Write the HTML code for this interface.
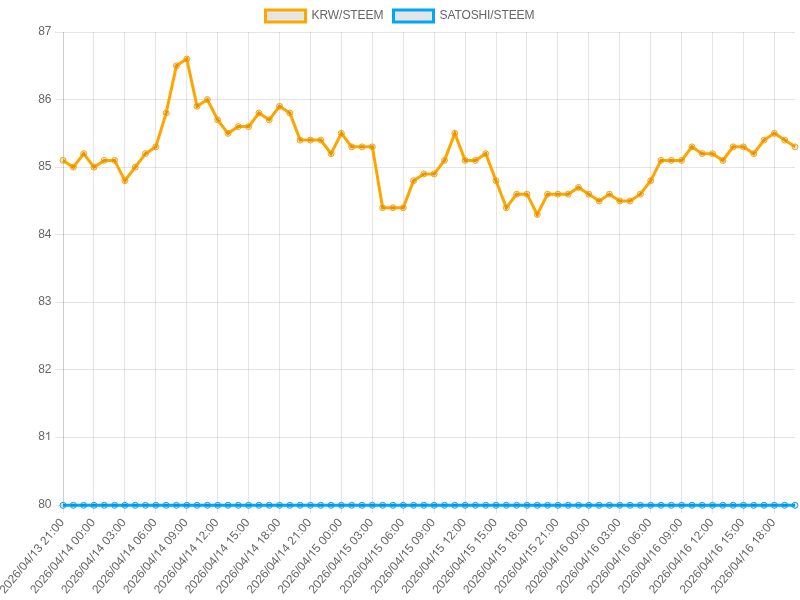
<!DOCTYPE html><html><head><meta charset="utf-8"><style>html,body{margin:0;padding:0;background:#fff;width:800px;height:600px;overflow:hidden}svg{display:block}text{font-family:"Liberation Sans",sans-serif;font-size:12px;fill:#666}</style></head><body>
<div style="position:absolute;left:0;top:0;width:800px;height:600px;will-change:transform"><svg width="800" height="600" viewBox="0 0 800 600">
<rect x="265.50" y="10" width="40" height="12" fill="rgba(0,0,0,0.1)" stroke="#ffa500" stroke-width="3"/>
<text x="311.50" y="19.30" textLength="72.0" lengthAdjust="spacing">KRW/STEEM</text>
<rect x="393.50" y="10" width="40" height="12" fill="rgba(0,0,0,0.1)" stroke="#00a5ff" stroke-width="3"/>
<text x="439.50" y="19.30" textLength="95.0" lengthAdjust="spacing">SATOSHI/STEEM</text>
<path d="M55.04 505.50H795.00M55.04 437.50H795.00M55.04 369.50H795.00M55.04 302.50H795.00M55.04 234.50H795.00M55.04 167.50H795.00M55.04 99.50H795.00M55.04 32.50H795.00M63.50 32.00V513.00M93.50 32.00V513.00M124.50 32.00V513.00M155.50 32.00V513.00M186.50 32.00V513.00M217.50 32.00V513.00M248.50 32.00V513.00M279.50 32.00V513.00M310.50 32.00V513.00M341.50 32.00V513.00M372.50 32.00V513.00M403.50 32.00V513.00M434.50 32.00V513.00M465.50 32.00V513.00M496.50 32.00V513.00M526.50 32.00V513.00M557.50 32.00V513.00M588.50 32.00V513.00M619.50 32.00V513.00M650.50 32.00V513.00M681.50 32.00V513.00M712.50 32.00V513.00M743.50 32.00V513.00M774.50 32.00V513.00M63.50 32.00V505.00" stroke="rgba(0,0,0,0.1)" stroke-width="1" fill="none"/>
<text x="51.50" y="508.00" text-anchor="end">80</text>
<text x="51.50" y="440.00" text-anchor="end">8 </text>
<path fill="#666" transform="translate(44.826 440.000) scale(0.005859375 -0.005859375)" d="M763 0H583V1102C539 1060 481 1018 409 976C337 934 272 902 215 881V1048C315 1095 403 1152 478 1220C553 1288 606 1351 637 1409H763Z"/>
<text x="51.50" y="373.00" text-anchor="end">82</text>
<text x="51.50" y="305.00" text-anchor="end">83</text>
<text x="51.50" y="238.00" text-anchor="end">84</text>
<text x="51.50" y="170.00" text-anchor="end">85</text>
<text x="51.50" y="103.00" text-anchor="end">86</text>
<text x="51.50" y="35.00" text-anchor="end">87</text>
<g transform="translate(61.54 520.00) rotate(-50)"><text x="0" y="4.16" text-anchor="end">2026/04/ 3 2 :00</text>
<path fill="#666" transform="translate(-46.711 4.16) scale(0.005859375 -0.005859375)" d="M763 0H583V1102C539 1060 481 1018 409 976C337 934 272 902 215 881V1048C315 1095 403 1152 478 1220C553 1288 606 1351 637 1409H763Z"/>
<path fill="#666" transform="translate(-23.355 4.16) scale(0.005859375 -0.005859375)" d="M763 0H583V1102C539 1060 481 1018 409 976C337 934 272 902 215 881V1048C315 1095 403 1152 478 1220C553 1288 606 1351 637 1409H763Z"/>
</g>
<g transform="translate(92.47 520.00) rotate(-50)"><text x="0" y="4.16" text-anchor="end">2026/04/ 4 00:00</text>
<path fill="#666" transform="translate(-46.711 4.16) scale(0.005859375 -0.005859375)" d="M763 0H583V1102C539 1060 481 1018 409 976C337 934 272 902 215 881V1048C315 1095 403 1152 478 1220C553 1288 606 1351 637 1409H763Z"/>
</g>
<g transform="translate(123.40 520.00) rotate(-50)"><text x="0" y="4.16" text-anchor="end">2026/04/ 4 03:00</text>
<path fill="#666" transform="translate(-46.711 4.16) scale(0.005859375 -0.005859375)" d="M763 0H583V1102C539 1060 481 1018 409 976C337 934 272 902 215 881V1048C315 1095 403 1152 478 1220C553 1288 606 1351 637 1409H763Z"/>
</g>
<g transform="translate(154.32 520.00) rotate(-50)"><text x="0" y="4.16" text-anchor="end">2026/04/ 4 06:00</text>
<path fill="#666" transform="translate(-46.711 4.16) scale(0.005859375 -0.005859375)" d="M763 0H583V1102C539 1060 481 1018 409 976C337 934 272 902 215 881V1048C315 1095 403 1152 478 1220C553 1288 606 1351 637 1409H763Z"/>
</g>
<g transform="translate(185.25 520.00) rotate(-50)"><text x="0" y="4.16" text-anchor="end">2026/04/ 4 09:00</text>
<path fill="#666" transform="translate(-46.711 4.16) scale(0.005859375 -0.005859375)" d="M763 0H583V1102C539 1060 481 1018 409 976C337 934 272 902 215 881V1048C315 1095 403 1152 478 1220C553 1288 606 1351 637 1409H763Z"/>
</g>
<g transform="translate(216.18 520.00) rotate(-50)"><text x="0" y="4.16" text-anchor="end">2026/04/ 4  2:00</text>
<path fill="#666" transform="translate(-46.711 4.16) scale(0.005859375 -0.005859375)" d="M763 0H583V1102C539 1060 481 1018 409 976C337 934 272 902 215 881V1048C315 1095 403 1152 478 1220C553 1288 606 1351 637 1409H763Z"/>
<path fill="#666" transform="translate(-30.029 4.16) scale(0.005859375 -0.005859375)" d="M763 0H583V1102C539 1060 481 1018 409 976C337 934 272 902 215 881V1048C315 1095 403 1152 478 1220C553 1288 606 1351 637 1409H763Z"/>
</g>
<g transform="translate(247.11 520.00) rotate(-50)"><text x="0" y="4.16" text-anchor="end">2026/04/ 4  5:00</text>
<path fill="#666" transform="translate(-46.711 4.16) scale(0.005859375 -0.005859375)" d="M763 0H583V1102C539 1060 481 1018 409 976C337 934 272 902 215 881V1048C315 1095 403 1152 478 1220C553 1288 606 1351 637 1409H763Z"/>
<path fill="#666" transform="translate(-30.029 4.16) scale(0.005859375 -0.005859375)" d="M763 0H583V1102C539 1060 481 1018 409 976C337 934 272 902 215 881V1048C315 1095 403 1152 478 1220C553 1288 606 1351 637 1409H763Z"/>
</g>
<g transform="translate(278.04 520.00) rotate(-50)"><text x="0" y="4.16" text-anchor="end">2026/04/ 4  8:00</text>
<path fill="#666" transform="translate(-46.711 4.16) scale(0.005859375 -0.005859375)" d="M763 0H583V1102C539 1060 481 1018 409 976C337 934 272 902 215 881V1048C315 1095 403 1152 478 1220C553 1288 606 1351 637 1409H763Z"/>
<path fill="#666" transform="translate(-30.029 4.16) scale(0.005859375 -0.005859375)" d="M763 0H583V1102C539 1060 481 1018 409 976C337 934 272 902 215 881V1048C315 1095 403 1152 478 1220C553 1288 606 1351 637 1409H763Z"/>
</g>
<g transform="translate(308.96 520.00) rotate(-50)"><text x="0" y="4.16" text-anchor="end">2026/04/ 4 2 :00</text>
<path fill="#666" transform="translate(-46.711 4.16) scale(0.005859375 -0.005859375)" d="M763 0H583V1102C539 1060 481 1018 409 976C337 934 272 902 215 881V1048C315 1095 403 1152 478 1220C553 1288 606 1351 637 1409H763Z"/>
<path fill="#666" transform="translate(-23.355 4.16) scale(0.005859375 -0.005859375)" d="M763 0H583V1102C539 1060 481 1018 409 976C337 934 272 902 215 881V1048C315 1095 403 1152 478 1220C553 1288 606 1351 637 1409H763Z"/>
</g>
<g transform="translate(339.89 520.00) rotate(-50)"><text x="0" y="4.16" text-anchor="end">2026/04/ 5 00:00</text>
<path fill="#666" transform="translate(-46.711 4.16) scale(0.005859375 -0.005859375)" d="M763 0H583V1102C539 1060 481 1018 409 976C337 934 272 902 215 881V1048C315 1095 403 1152 478 1220C553 1288 606 1351 637 1409H763Z"/>
</g>
<g transform="translate(370.82 520.00) rotate(-50)"><text x="0" y="4.16" text-anchor="end">2026/04/ 5 03:00</text>
<path fill="#666" transform="translate(-46.711 4.16) scale(0.005859375 -0.005859375)" d="M763 0H583V1102C539 1060 481 1018 409 976C337 934 272 902 215 881V1048C315 1095 403 1152 478 1220C553 1288 606 1351 637 1409H763Z"/>
</g>
<g transform="translate(401.75 520.00) rotate(-50)"><text x="0" y="4.16" text-anchor="end">2026/04/ 5 06:00</text>
<path fill="#666" transform="translate(-46.711 4.16) scale(0.005859375 -0.005859375)" d="M763 0H583V1102C539 1060 481 1018 409 976C337 934 272 902 215 881V1048C315 1095 403 1152 478 1220C553 1288 606 1351 637 1409H763Z"/>
</g>
<g transform="translate(432.67 520.00) rotate(-50)"><text x="0" y="4.16" text-anchor="end">2026/04/ 5 09:00</text>
<path fill="#666" transform="translate(-46.711 4.16) scale(0.005859375 -0.005859375)" d="M763 0H583V1102C539 1060 481 1018 409 976C337 934 272 902 215 881V1048C315 1095 403 1152 478 1220C553 1288 606 1351 637 1409H763Z"/>
</g>
<g transform="translate(463.60 520.00) rotate(-50)"><text x="0" y="4.16" text-anchor="end">2026/04/ 5  2:00</text>
<path fill="#666" transform="translate(-46.711 4.16) scale(0.005859375 -0.005859375)" d="M763 0H583V1102C539 1060 481 1018 409 976C337 934 272 902 215 881V1048C315 1095 403 1152 478 1220C553 1288 606 1351 637 1409H763Z"/>
<path fill="#666" transform="translate(-30.029 4.16) scale(0.005859375 -0.005859375)" d="M763 0H583V1102C539 1060 481 1018 409 976C337 934 272 902 215 881V1048C315 1095 403 1152 478 1220C553 1288 606 1351 637 1409H763Z"/>
</g>
<g transform="translate(494.53 520.00) rotate(-50)"><text x="0" y="4.16" text-anchor="end">2026/04/ 5  5:00</text>
<path fill="#666" transform="translate(-46.711 4.16) scale(0.005859375 -0.005859375)" d="M763 0H583V1102C539 1060 481 1018 409 976C337 934 272 902 215 881V1048C315 1095 403 1152 478 1220C553 1288 606 1351 637 1409H763Z"/>
<path fill="#666" transform="translate(-30.029 4.16) scale(0.005859375 -0.005859375)" d="M763 0H583V1102C539 1060 481 1018 409 976C337 934 272 902 215 881V1048C315 1095 403 1152 478 1220C553 1288 606 1351 637 1409H763Z"/>
</g>
<g transform="translate(525.46 520.00) rotate(-50)"><text x="0" y="4.16" text-anchor="end">2026/04/ 5  8:00</text>
<path fill="#666" transform="translate(-46.711 4.16) scale(0.005859375 -0.005859375)" d="M763 0H583V1102C539 1060 481 1018 409 976C337 934 272 902 215 881V1048C315 1095 403 1152 478 1220C553 1288 606 1351 637 1409H763Z"/>
<path fill="#666" transform="translate(-30.029 4.16) scale(0.005859375 -0.005859375)" d="M763 0H583V1102C539 1060 481 1018 409 976C337 934 272 902 215 881V1048C315 1095 403 1152 478 1220C553 1288 606 1351 637 1409H763Z"/>
</g>
<g transform="translate(556.39 520.00) rotate(-50)"><text x="0" y="4.16" text-anchor="end">2026/04/ 5 2 :00</text>
<path fill="#666" transform="translate(-46.711 4.16) scale(0.005859375 -0.005859375)" d="M763 0H583V1102C539 1060 481 1018 409 976C337 934 272 902 215 881V1048C315 1095 403 1152 478 1220C553 1288 606 1351 637 1409H763Z"/>
<path fill="#666" transform="translate(-23.355 4.16) scale(0.005859375 -0.005859375)" d="M763 0H583V1102C539 1060 481 1018 409 976C337 934 272 902 215 881V1048C315 1095 403 1152 478 1220C553 1288 606 1351 637 1409H763Z"/>
</g>
<g transform="translate(587.31 520.00) rotate(-50)"><text x="0" y="4.16" text-anchor="end">2026/04/ 6 00:00</text>
<path fill="#666" transform="translate(-46.711 4.16) scale(0.005859375 -0.005859375)" d="M763 0H583V1102C539 1060 481 1018 409 976C337 934 272 902 215 881V1048C315 1095 403 1152 478 1220C553 1288 606 1351 637 1409H763Z"/>
</g>
<g transform="translate(618.24 520.00) rotate(-50)"><text x="0" y="4.16" text-anchor="end">2026/04/ 6 03:00</text>
<path fill="#666" transform="translate(-46.711 4.16) scale(0.005859375 -0.005859375)" d="M763 0H583V1102C539 1060 481 1018 409 976C337 934 272 902 215 881V1048C315 1095 403 1152 478 1220C553 1288 606 1351 637 1409H763Z"/>
</g>
<g transform="translate(649.17 520.00) rotate(-50)"><text x="0" y="4.16" text-anchor="end">2026/04/ 6 06:00</text>
<path fill="#666" transform="translate(-46.711 4.16) scale(0.005859375 -0.005859375)" d="M763 0H583V1102C539 1060 481 1018 409 976C337 934 272 902 215 881V1048C315 1095 403 1152 478 1220C553 1288 606 1351 637 1409H763Z"/>
</g>
<g transform="translate(680.10 520.00) rotate(-50)"><text x="0" y="4.16" text-anchor="end">2026/04/ 6 09:00</text>
<path fill="#666" transform="translate(-46.711 4.16) scale(0.005859375 -0.005859375)" d="M763 0H583V1102C539 1060 481 1018 409 976C337 934 272 902 215 881V1048C315 1095 403 1152 478 1220C553 1288 606 1351 637 1409H763Z"/>
</g>
<g transform="translate(711.03 520.00) rotate(-50)"><text x="0" y="4.16" text-anchor="end">2026/04/ 6  2:00</text>
<path fill="#666" transform="translate(-46.711 4.16) scale(0.005859375 -0.005859375)" d="M763 0H583V1102C539 1060 481 1018 409 976C337 934 272 902 215 881V1048C315 1095 403 1152 478 1220C553 1288 606 1351 637 1409H763Z"/>
<path fill="#666" transform="translate(-30.029 4.16) scale(0.005859375 -0.005859375)" d="M763 0H583V1102C539 1060 481 1018 409 976C337 934 272 902 215 881V1048C315 1095 403 1152 478 1220C553 1288 606 1351 637 1409H763Z"/>
</g>
<g transform="translate(741.95 520.00) rotate(-50)"><text x="0" y="4.16" text-anchor="end">2026/04/ 6  5:00</text>
<path fill="#666" transform="translate(-46.711 4.16) scale(0.005859375 -0.005859375)" d="M763 0H583V1102C539 1060 481 1018 409 976C337 934 272 902 215 881V1048C315 1095 403 1152 478 1220C553 1288 606 1351 637 1409H763Z"/>
<path fill="#666" transform="translate(-30.029 4.16) scale(0.005859375 -0.005859375)" d="M763 0H583V1102C539 1060 481 1018 409 976C337 934 272 902 215 881V1048C315 1095 403 1152 478 1220C553 1288 606 1351 637 1409H763Z"/>
</g>
<g transform="translate(772.88 520.00) rotate(-50)"><text x="0" y="4.16" text-anchor="end">2026/04/ 6  8:00</text>
<path fill="#666" transform="translate(-46.711 4.16) scale(0.005859375 -0.005859375)" d="M763 0H583V1102C539 1060 481 1018 409 976C337 934 272 902 215 881V1048C315 1095 403 1152 478 1220C553 1288 606 1351 637 1409H763Z"/>
<path fill="#666" transform="translate(-30.029 4.16) scale(0.005859375 -0.005859375)" d="M763 0H583V1102C539 1060 481 1018 409 976C337 934 272 902 215 881V1048C315 1095 403 1152 478 1220C553 1288 606 1351 637 1409H763Z"/>
</g>
<polyline points="63.04,160.39 73.35,167.14 83.66,153.63 93.97,167.14 104.28,160.39 114.59,160.39 124.90,180.66 135.21,167.14 145.51,153.63 155.82,146.87 166.13,113.09 176.44,65.79 186.75,59.03 197.06,106.33 207.37,99.57 217.68,119.84 227.99,133.36 238.30,126.60 248.61,126.60 258.92,113.09 269.23,119.84 279.54,106.33 289.84,113.09 300.15,140.11 310.46,140.11 320.77,140.11 331.08,153.63 341.39,133.36 351.70,146.87 362.01,146.87 372.32,146.87 382.63,207.69 392.94,207.69 403.25,207.69 413.56,180.66 423.87,173.90 434.17,173.90 444.48,160.39 454.79,133.36 465.10,160.39 475.41,160.39 485.72,153.63 496.03,180.66 506.34,207.69 516.65,194.17 526.96,194.17 537.27,214.44 547.58,194.17 557.89,194.17 568.20,194.17 578.50,187.41 588.81,194.17 599.12,200.93 609.43,194.17 619.74,200.93 630.05,200.93 640.36,194.17 650.67,180.66 660.98,160.39 671.29,160.39 681.60,160.39 691.91,146.87 702.22,153.63 712.53,153.63 722.83,160.39 733.14,146.87 743.45,146.87 753.76,153.63 764.07,140.11 774.38,133.36 784.69,140.11 795.00,146.87" fill="none" stroke="#ffa500" stroke-width="3" stroke-linejoin="miter" stroke-linecap="butt"/>
<g fill="rgba(0,0,0,0.1)" stroke="#ffa500" stroke-width="1"><circle cx="63.04" cy="160.39" r="3"/><circle cx="73.35" cy="167.14" r="3"/><circle cx="83.66" cy="153.63" r="3"/><circle cx="93.97" cy="167.14" r="3"/><circle cx="104.28" cy="160.39" r="3"/><circle cx="114.59" cy="160.39" r="3"/><circle cx="124.90" cy="180.66" r="3"/><circle cx="135.21" cy="167.14" r="3"/><circle cx="145.51" cy="153.63" r="3"/><circle cx="155.82" cy="146.87" r="3"/><circle cx="166.13" cy="113.09" r="3"/><circle cx="176.44" cy="65.79" r="3"/><circle cx="186.75" cy="59.03" r="3"/><circle cx="197.06" cy="106.33" r="3"/><circle cx="207.37" cy="99.57" r="3"/><circle cx="217.68" cy="119.84" r="3"/><circle cx="227.99" cy="133.36" r="3"/><circle cx="238.30" cy="126.60" r="3"/><circle cx="248.61" cy="126.60" r="3"/><circle cx="258.92" cy="113.09" r="3"/><circle cx="269.23" cy="119.84" r="3"/><circle cx="279.54" cy="106.33" r="3"/><circle cx="289.84" cy="113.09" r="3"/><circle cx="300.15" cy="140.11" r="3"/><circle cx="310.46" cy="140.11" r="3"/><circle cx="320.77" cy="140.11" r="3"/><circle cx="331.08" cy="153.63" r="3"/><circle cx="341.39" cy="133.36" r="3"/><circle cx="351.70" cy="146.87" r="3"/><circle cx="362.01" cy="146.87" r="3"/><circle cx="372.32" cy="146.87" r="3"/><circle cx="382.63" cy="207.69" r="3"/><circle cx="392.94" cy="207.69" r="3"/><circle cx="403.25" cy="207.69" r="3"/><circle cx="413.56" cy="180.66" r="3"/><circle cx="423.87" cy="173.90" r="3"/><circle cx="434.17" cy="173.90" r="3"/><circle cx="444.48" cy="160.39" r="3"/><circle cx="454.79" cy="133.36" r="3"/><circle cx="465.10" cy="160.39" r="3"/><circle cx="475.41" cy="160.39" r="3"/><circle cx="485.72" cy="153.63" r="3"/><circle cx="496.03" cy="180.66" r="3"/><circle cx="506.34" cy="207.69" r="3"/><circle cx="516.65" cy="194.17" r="3"/><circle cx="526.96" cy="194.17" r="3"/><circle cx="537.27" cy="214.44" r="3"/><circle cx="547.58" cy="194.17" r="3"/><circle cx="557.89" cy="194.17" r="3"/><circle cx="568.20" cy="194.17" r="3"/><circle cx="578.50" cy="187.41" r="3"/><circle cx="588.81" cy="194.17" r="3"/><circle cx="599.12" cy="200.93" r="3"/><circle cx="609.43" cy="194.17" r="3"/><circle cx="619.74" cy="200.93" r="3"/><circle cx="630.05" cy="200.93" r="3"/><circle cx="640.36" cy="194.17" r="3"/><circle cx="650.67" cy="180.66" r="3"/><circle cx="660.98" cy="160.39" r="3"/><circle cx="671.29" cy="160.39" r="3"/><circle cx="681.60" cy="160.39" r="3"/><circle cx="691.91" cy="146.87" r="3"/><circle cx="702.22" cy="153.63" r="3"/><circle cx="712.53" cy="153.63" r="3"/><circle cx="722.83" cy="160.39" r="3"/><circle cx="733.14" cy="146.87" r="3"/><circle cx="743.45" cy="146.87" r="3"/><circle cx="753.76" cy="153.63" r="3"/><circle cx="764.07" cy="140.11" r="3"/><circle cx="774.38" cy="133.36" r="3"/><circle cx="784.69" cy="140.11" r="3"/><circle cx="795.00" cy="146.87" r="3"/></g>
<polyline points="63.04,505.30 73.35,505.30 83.66,505.30 93.97,505.30 104.28,505.30 114.59,505.30 124.90,505.30 135.21,505.30 145.51,505.30 155.82,505.30 166.13,505.30 176.44,505.30 186.75,505.30 197.06,505.30 207.37,505.30 217.68,505.30 227.99,505.30 238.30,505.30 248.61,505.30 258.92,505.30 269.23,505.30 279.54,505.30 289.84,505.30 300.15,505.30 310.46,505.30 320.77,505.30 331.08,505.30 341.39,505.30 351.70,505.30 362.01,505.30 372.32,505.30 382.63,505.30 392.94,505.30 403.25,505.30 413.56,505.30 423.87,505.30 434.17,505.30 444.48,505.30 454.79,505.30 465.10,505.30 475.41,505.30 485.72,505.30 496.03,505.30 506.34,505.30 516.65,505.30 526.96,505.30 537.27,505.30 547.58,505.30 557.89,505.30 568.20,505.30 578.50,505.30 588.81,505.30 599.12,505.30 609.43,505.30 619.74,505.30 630.05,505.30 640.36,505.30 650.67,505.30 660.98,505.30 671.29,505.30 681.60,505.30 691.91,505.30 702.22,505.30 712.53,505.30 722.83,505.30 733.14,505.30 743.45,505.30 753.76,505.30 764.07,505.30 774.38,505.30 784.69,505.30 795.00,505.30" fill="none" stroke="#00a5ff" stroke-width="3" stroke-linejoin="miter" stroke-linecap="butt"/>
<g fill="rgba(0,0,0,0.1)" stroke="#00a5ff" stroke-width="1"><circle cx="63.04" cy="505.30" r="3"/><circle cx="73.35" cy="505.30" r="3"/><circle cx="83.66" cy="505.30" r="3"/><circle cx="93.97" cy="505.30" r="3"/><circle cx="104.28" cy="505.30" r="3"/><circle cx="114.59" cy="505.30" r="3"/><circle cx="124.90" cy="505.30" r="3"/><circle cx="135.21" cy="505.30" r="3"/><circle cx="145.51" cy="505.30" r="3"/><circle cx="155.82" cy="505.30" r="3"/><circle cx="166.13" cy="505.30" r="3"/><circle cx="176.44" cy="505.30" r="3"/><circle cx="186.75" cy="505.30" r="3"/><circle cx="197.06" cy="505.30" r="3"/><circle cx="207.37" cy="505.30" r="3"/><circle cx="217.68" cy="505.30" r="3"/><circle cx="227.99" cy="505.30" r="3"/><circle cx="238.30" cy="505.30" r="3"/><circle cx="248.61" cy="505.30" r="3"/><circle cx="258.92" cy="505.30" r="3"/><circle cx="269.23" cy="505.30" r="3"/><circle cx="279.54" cy="505.30" r="3"/><circle cx="289.84" cy="505.30" r="3"/><circle cx="300.15" cy="505.30" r="3"/><circle cx="310.46" cy="505.30" r="3"/><circle cx="320.77" cy="505.30" r="3"/><circle cx="331.08" cy="505.30" r="3"/><circle cx="341.39" cy="505.30" r="3"/><circle cx="351.70" cy="505.30" r="3"/><circle cx="362.01" cy="505.30" r="3"/><circle cx="372.32" cy="505.30" r="3"/><circle cx="382.63" cy="505.30" r="3"/><circle cx="392.94" cy="505.30" r="3"/><circle cx="403.25" cy="505.30" r="3"/><circle cx="413.56" cy="505.30" r="3"/><circle cx="423.87" cy="505.30" r="3"/><circle cx="434.17" cy="505.30" r="3"/><circle cx="444.48" cy="505.30" r="3"/><circle cx="454.79" cy="505.30" r="3"/><circle cx="465.10" cy="505.30" r="3"/><circle cx="475.41" cy="505.30" r="3"/><circle cx="485.72" cy="505.30" r="3"/><circle cx="496.03" cy="505.30" r="3"/><circle cx="506.34" cy="505.30" r="3"/><circle cx="516.65" cy="505.30" r="3"/><circle cx="526.96" cy="505.30" r="3"/><circle cx="537.27" cy="505.30" r="3"/><circle cx="547.58" cy="505.30" r="3"/><circle cx="557.89" cy="505.30" r="3"/><circle cx="568.20" cy="505.30" r="3"/><circle cx="578.50" cy="505.30" r="3"/><circle cx="588.81" cy="505.30" r="3"/><circle cx="599.12" cy="505.30" r="3"/><circle cx="609.43" cy="505.30" r="3"/><circle cx="619.74" cy="505.30" r="3"/><circle cx="630.05" cy="505.30" r="3"/><circle cx="640.36" cy="505.30" r="3"/><circle cx="650.67" cy="505.30" r="3"/><circle cx="660.98" cy="505.30" r="3"/><circle cx="671.29" cy="505.30" r="3"/><circle cx="681.60" cy="505.30" r="3"/><circle cx="691.91" cy="505.30" r="3"/><circle cx="702.22" cy="505.30" r="3"/><circle cx="712.53" cy="505.30" r="3"/><circle cx="722.83" cy="505.30" r="3"/><circle cx="733.14" cy="505.30" r="3"/><circle cx="743.45" cy="505.30" r="3"/><circle cx="753.76" cy="505.30" r="3"/><circle cx="764.07" cy="505.30" r="3"/><circle cx="774.38" cy="505.30" r="3"/><circle cx="784.69" cy="505.30" r="3"/><circle cx="795.00" cy="505.30" r="3"/></g>
</svg></div></body></html>
